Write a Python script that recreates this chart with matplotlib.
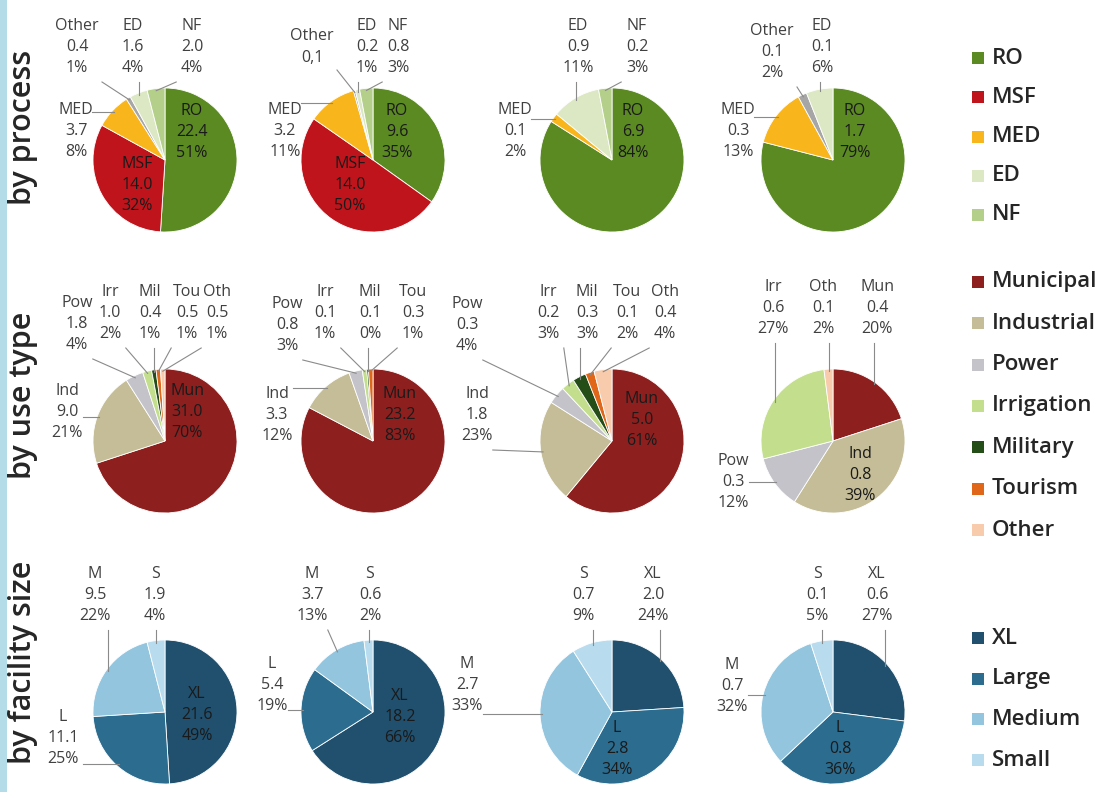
import matplotlib
matplotlib.use("Agg")
import matplotlib.pyplot as plt
from matplotlib.patches import Rectangle
import numpy as np

plt.rcParams['font.family'] = ['Open Sans', 'DejaVu Sans']

# ---- data (4 pies per row, slices clockwise from 12 o'clock) ----
proc_names = ["RO", "MSF", "MED", "Other", "ED", "NF"]
proc_vals = [
    [22.4, 14.0, 3.7, 0.4, 1.6, 2.0],
    [9.6, 14.0, 3.2, 0.1, 0.2, 0.8],
    [6.9, 0.0, 0.1, 0.0, 0.9, 0.2],
    [1.7, 0.0, 0.3, 0.1, 0.1, 0.0],
]
proc_pct = [
    [51, 32, 8, 1, 4, 4],
    [35, 50, 11, 0.4, 1, 3],
    [84, 0, 2, 0, 11, 3],
    [79, 0, 13, 2, 6, 0],
]

use_names = ["Mun", "Ind", "Pow", "Irr", "Mil", "Tou", "Oth"]
use_vals = [
    [31.0, 9.0, 1.8, 1.0, 0.4, 0.5, 0.5],
    [23.2, 3.3, 0.8, 0.1, 0.1, 0.3, 0.0],
    [5.0, 1.8, 0.3, 0.2, 0.3, 0.1, 0.4],
    [0.4, 0.8, 0.3, 0.6, 0.0, 0.0, 0.1],
]
use_pct = [
    [70, 21, 4, 2, 1, 1, 1],
    [83, 12, 3, 1, 0.4, 1, 0],
    [61, 23, 4, 3, 3, 2, 4],
    [20, 39, 12, 27, 0, 0, 2],
]

size_names = ["XL", "L", "M", "S"]
size_vals = [
    [21.6, 11.1, 9.5, 1.9],
    [18.2, 5.4, 3.7, 0.6],
    [2.0, 2.8, 2.7, 0.7],
    [0.6, 0.8, 0.7, 0.1],
]
size_pct = [
    [49, 25, 22, 4],
    [66, 19, 13, 2],
    [24, 34, 33, 9],
    [27, 36, 32, 5],
]

row_titles = ["by process", "by use type", "by facility size"]

proc_legend = ["RO", "MSF", "MED", "ED", "NF"]
use_legend = ["Municipal", "Industrial", "Power", "Irrigation", "Military", "Tourism", "Other"]
size_legend = ["XL", "Large", "Medium", "Small"]

# ---- styles ----
proc_colors = {"RO": "#5b8a23", "MSF": "#c0141c", "MED": "#f8b51c",
               "Other": "#a6a6a6", "ED": "#dce8c4", "NF": "#b4cf8a"}
use_colors = {"Mun": "#8e1f1f", "Ind": "#c4bd97", "Pow": "#c3c3c9",
              "Irr": "#c3df8e", "Mil": "#254d18", "Tou": "#e0661a", "Oth": "#f8cbad"}
size_colors = {"XL": "#20506e", "L": "#2b6c8f", "M": "#93c5df", "S": "#b8dcee"}

rows = [
    (proc_names, proc_vals, proc_pct, proc_colors),
    (use_names, use_vals, use_pct, use_colors),
    (size_names, size_vals, size_pct, size_colors),
]

W, H = 1114, 792
R = 72
cx = [165, 373, 612, 833]
cy = [160, 441, 712]

# label placement (pixel coords) per pie: name -> (x, y, inside)
labels = {
    (0, 0): {"RO": (192, 132, 1), "MSF": (137, 185, 1), "MED": (76, 131, 0),
             "Other": (77, 47, 0), "ED": (133, 47, 0), "NF": (192, 47, 0)},
    (0, 1): {"RO": (397, 132, 1), "MSF": (350, 185, 1), "MED": (285, 131, 0),
             "Other": (312, 47, 0), "ED": (367, 47, 0), "NF": (398, 47, 0)},
    (0, 2): {"RO": (633, 132, 1), "MED": (515, 131, 0),
             "ED": (578, 47, 0), "NF": (637, 47, 0)},
    (0, 3): {"RO": (855, 132, 1), "MED": (738, 131, 0),
             "Other": (772, 52, 0), "ED": (822, 47, 0)},
    (1, 0): {"Mun": (187, 412, 1), "Ind": (67, 412, 0), "Pow": (77, 324, 0),
             "Irr": (110, 313, 0), "Mil": (150, 313, 0), "Tou": (187, 313, 0),
             "Oth": (217, 313, 0)},
    (1, 1): {"Mun": (400, 415, 1), "Ind": (277, 415, 0), "Pow": (287, 325, 0),
             "Irr": (325, 313, 0), "Mil": (370, 313, 0), "Tou": (413, 313, 0)},
    (1, 2): {"Mun": (642, 420, 1), "Ind": (477, 415, 0), "Pow": (467, 325, 0),
             "Irr": (548, 313, 0), "Mil": (587, 313, 0), "Tou": (627, 313, 0),
             "Oth": (665, 313, 0)},
    (1, 3): {"Ind": (860, 475, 1), "Pow": (733, 482, 0), "Irr": (773, 308, 0),
             "Oth": (823, 308, 0), "Mun": (877, 308, 0)},
    (2, 0): {"XL": (197, 715, 1), "L": (63, 738, 0), "M": (95, 595, 0), "S": (155, 595, 0)},
    (2, 1): {"XL": (400, 717, 1), "L": (272, 685, 0), "M": (312, 595, 0), "S": (370, 595, 0)},
    (2, 2): {"L": (617, 749, 1), "M": (467, 685, 0), "S": (583, 595, 0), "XL": (653, 595, 0)},
    (2, 3): {"L": (840, 749, 1), "M": (732, 686, 0), "S": (817, 595, 0), "XL": (877, 595, 0)},
}
label_override = {(0, 1, "Other"): "Other\n0,1"}

fig = plt.figure(figsize=(W / 100, H / 100), dpi=100)
ax = fig.add_axes([0, 0, 1, 1])

for r, (names, vals, pcts, colors) in enumerate(rows):
    for c in range(4):
        keep = [i for i, p in enumerate(pcts[c]) if p > 0]
        sizes = [pcts[c][i] for i in keep]
        cols = [colors[names[i]] for i in keep]
        center = (cx[c], cy[r])
        # y axis is inverted, so counterclock in data = clockwise on screen
        wedges, _ = ax.pie(sizes, colors=cols, startangle=-90, counterclock=True,
                           center=center, radius=R,
                           wedgeprops=dict(edgecolor="white", linewidth=0.6))
        for w, i in zip(wedges, keep):
            name = names[i]
            if name not in labels[(r, c)]:
                continue
            tx, ty, inside = labels[(r, c)][name]
            txt = label_override.get((r, c, name),
                                     "%s\n%.1f\n%d%%" % (name, vals[c][i], round(pcts[c][i])))
            ax.text(tx, ty, txt, ha="center", va="center", multialignment="center",
                    fontsize=11.5, linespacing=1.45,
                    color="#1a1a1a" if inside else "#404040", zorder=5)
            if not inside:
                mid = np.deg2rad((w.theta1 + w.theta2) / 2)
                px = center[0] + R * 0.97 * np.cos(mid)
                py = center[1] + R * 0.97 * np.sin(mid)
                lines = txt.split("\n")
                hw = max(len(s) for s in lines) * 4.6 + 2
                hh = len(lines) * 12 - 1
                ax_ = np.clip(px, tx - hw, tx + hw)
                ay_ = np.clip(py, ty - hh, ty + hh)
                ax.plot([ax_, px], [ay_, py], color="#8a8a8a", lw=0.8, zorder=4)

# row titles
for r, t in enumerate(row_titles):
    ax.text(23, [127, 395, 662][r], t, rotation=90, ha="center", va="center",
            fontsize=22, fontweight="semibold", color="#262626")

# legends
leg_groups = [
    (proc_legend, [proc_colors[k] for k in ["RO", "MSF", "MED", "ED", "NF"]], 58, 215),
    (use_legend, [use_colors[k] for k in use_names], 282, 530),
    (size_legend, [size_colors[k] for k in size_names], 638, 760),
]
for names, cols, y0, y1 in leg_groups:
    for name, col, y in zip(names, cols, np.linspace(y0, y1, len(names))):
        ax.add_patch(Rectangle((972, y - 6), 12, 12, color=col, lw=0))
        ax.text(992, y, name, ha="left", va="center", fontsize=16,
                fontweight="semibold", color="#262626")

# light blue strip on the left edge
ax.add_patch(Rectangle((0, 0), 7, H, color="#b3dbe8", lw=0))

ax.set_xlim(0, W)
ax.set_ylim(H, 0)
ax.set_aspect("auto")
ax.axis("off")
fig.savefig("out.png", dpi=100)
